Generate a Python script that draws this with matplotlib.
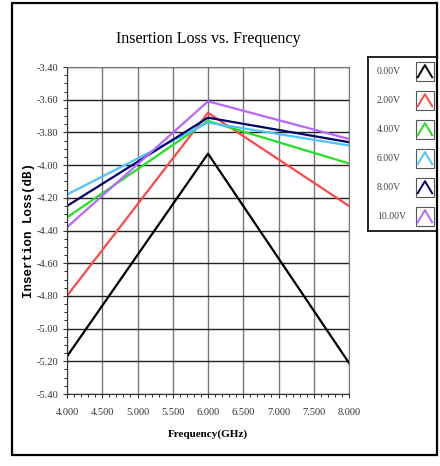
import matplotlib
matplotlib.use('Agg')
import matplotlib.pyplot as plt
from matplotlib.patches import Rectangle
from matplotlib.ticker import MultipleLocator, FormatStrFormatter

plt.rcParams['font.family'] = ['Liberation Serif', 'DejaVu Serif']

# 数据
freqs = [4.0, 6.0, 8.0]
voltages = ['0.00V', '2.00V', '4.00V', '6.00V', '8.00V', '10.00V']
loss_0v = [-5.17, -3.93, -5.21]
loss_2v = [-4.80, -3.68, -4.25]
loss_4v = [-4.32, -3.73, -3.99]
loss_6v = [-4.18, -3.74, -3.88]
loss_8v = [-4.25, -3.71, -3.86]
loss_10v = [-4.38, -3.61, -3.84]
colors = ['#000000', '#ff4848', '#22e022', '#4cc4ff', '#000066', '#b866ff']

series = [loss_0v, loss_2v, loss_4v, loss_6v, loss_8v, loss_10v]

fig = plt.figure(figsize=(4.4, 4.66), dpi=100)

# 外框
fig.patches.append(Rectangle((12 / 440, 1 - 455 / 466), 425 / 440, 452 / 466,
                             transform=fig.transFigure, fill=False,
                             edgecolor='black', linewidth=1.6))

ax = fig.add_axes([67 / 440, 72 / 466, 282 / 440, 327 / 466])
for values, color in zip(series, colors):
    ax.plot(freqs, values, color=color, linewidth=1.6)

ax.set_xlim(4.0, 8.0)
ax.set_ylim(-5.40, -3.40)
ax.xaxis.set_major_locator(MultipleLocator(0.5))
ax.xaxis.set_minor_locator(MultipleLocator(0.1))
ax.yaxis.set_major_locator(MultipleLocator(0.2))
ax.yaxis.set_minor_locator(MultipleLocator(0.05))
ax.xaxis.set_major_formatter(FormatStrFormatter('%.3f'))
ax.yaxis.set_major_formatter(FormatStrFormatter('%.2f'))
ax.tick_params(axis='both', which='major', labelsize=7.5, length=3, width=0.8,
               direction='out', colors='#333333')
ax.tick_params(axis='x', which='major', pad=7)
ax.tick_params(axis='both', which='minor', length=2, width=0.6, direction='out')
ax.grid(axis='y', which='major', color='#222222', linewidth=1.0)
ax.grid(axis='x', which='major', color='#777777', linewidth=1.0)
for side in ['top', 'right']:
    ax.spines[side].set_color('#777777')
for side in ['left', 'bottom']:
    ax.spines[side].set_color('#333333')

ax.set_title('Insertion Loss vs. Frequency', fontsize=11.5, pad=17)
ax.set_xlabel('Frequency(GHz)', fontsize=8, fontweight='bold', labelpad=9)
ax.set_ylabel('Insertion Loss(dB)', fontsize=9, fontweight='bold',
              family=['Liberation Mono', 'DejaVu Sans Mono'], labelpad=1)

# 图例
lg = fig.add_axes([368 / 440, 1 - 231 / 466, 69 / 440, 174 / 466])
lg.set_xlim(0, 1)
lg.set_ylim(len(voltages), 0)
lg.set_xticks([])
lg.set_yticks([])
for s in lg.spines.values():
    s.set_linewidth(1.2)
for i, (label, color) in enumerate(zip(voltages, colors)):
    yc = i + 0.5
    lg.text(0.13, yc, label, fontsize=7, va='center', ha='left', color='#444444')
    lg.add_patch(Rectangle((0.69, yc - 0.32), 0.27, 0.64, fill=False,
                           edgecolor='#555555', linewidth=0.8))
    lg.plot([0.72, 0.825, 0.93], [yc + 0.2, yc - 0.22, yc + 0.2], color=color, linewidth=1.4)

fig.savefig('out.png', dpi=100)
